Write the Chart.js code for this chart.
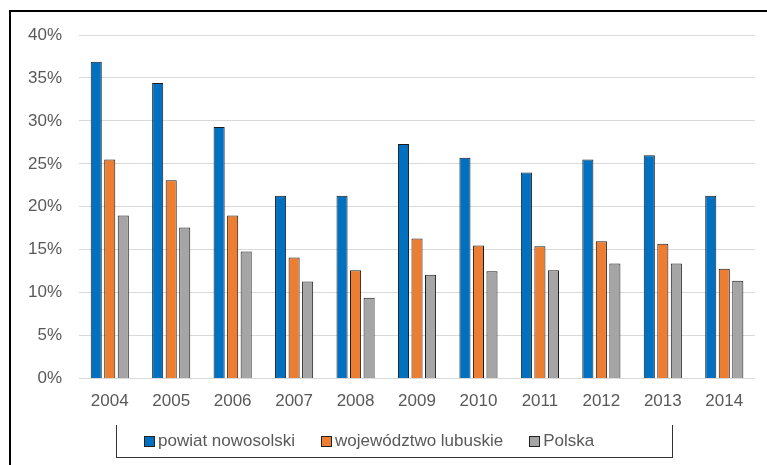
<!DOCTYPE html>
<html><head><meta charset="utf-8">
<script src="https://cdn.jsdelivr.net/npm/chart.js@4/dist/chart.umd.min.js"></script>
<style>
html,body{margin:0;padding:0;background:#fff;}
#wrap{position:relative;width:767px;height:465px;overflow:hidden;font-family:"Liberation Sans",Arial,sans-serif;}
#frame{position:absolute;left:9px;top:10px;width:800px;height:500px;border-top:2px solid #000;border-left:2px solid #000;}
#lgbox{position:absolute;left:116px;top:425px;width:555px;height:32px;border-left:1px solid #333;border-right:1px solid #333;border-bottom:1px solid #333;}
#legend{position:absolute;left:117px;top:431px;width:540px;padding-left:14px;display:flex;justify-content:flex-start;align-items:center;font-size:17px;color:#595959;}
.li{display:flex;align-items:center;margin:0 13px;}
.sw{width:9px;height:9px;border:1px solid #222;margin-right:3px;}
canvas{position:absolute;left:0;top:0;}
</style></head>
<body><div id="wrap"><div id="frame"></div><canvas id="c" width="767" height="465"></canvas><div id="lgbox"></div><div id="legend"></div></div>
<script>
const categories=['2004','2005','2006','2007','2008','2009','2010','2011','2012','2013','2014'];
const seriesNames=['powiat nowosolski','województwo lubuskie','Polska'];
const powiat=[36.9,34.4,29.3,21.3,21.3,27.3,25.7,24.0,25.5,26.0,21.3];
const lubuskie=[25.5,23.1,19.0,14.1,12.6,16.3,15.5,15.4,16.0,15.7,12.8];
const polska=[19.0,17.6,14.8,11.3,9.4,12.1,12.5,12.6,13.4,13.4,11.4];
const colors=['#0070C0','#ED7D31','#A5A5A5'];
const yTicks=[0,5,10,15,20,25,30,35,40];

const vals=[powiat,lubuskie,polska];
const lg=document.getElementById('legend');
seriesNames.forEach((n,i)=>{const d=document.createElement('div');d.className='li';d.innerHTML='<span class="sw" style="background:'+colors[i]+'"></span><span>'+n+'</span>';lg.appendChild(d);});

new Chart(document.getElementById('c'),{
  type:'bar',
  data:{labels:categories,datasets:vals.map((v,i)=>({label:seriesNames[i],data:v,backgroundColor:colors[i],borderColor:'#1a1a1a',borderWidth:1,categoryPercentage:0.66,barPercentage:0.82}))},
  options:{
    responsive:false,animation:false,
    layout:{padding:{left:11,top:35,right:12,bottom:40}},
    plugins:{legend:{display:false},tooltip:{enabled:false}},
    scales:{
      x:{grid:{display:false,drawTicks:false},border:{display:false},ticks:{color:'#595959',font:{family:'"Liberation Sans", Arial, sans-serif',size:17},padding:13}},
      y:{min:0,max:40,afterBuildTicks:a=>{a.ticks=yTicks.map(v=>({value:v}));},
        grid:{color:'#d9d9d9',lineWidth:1,drawTicks:false},border:{display:false},
        ticks:{color:'#595959',font:{family:'"Liberation Sans", Arial, sans-serif',size:17},padding:17,callback:v=>v+'%'}}
    }
  }
});
</script></body></html>
